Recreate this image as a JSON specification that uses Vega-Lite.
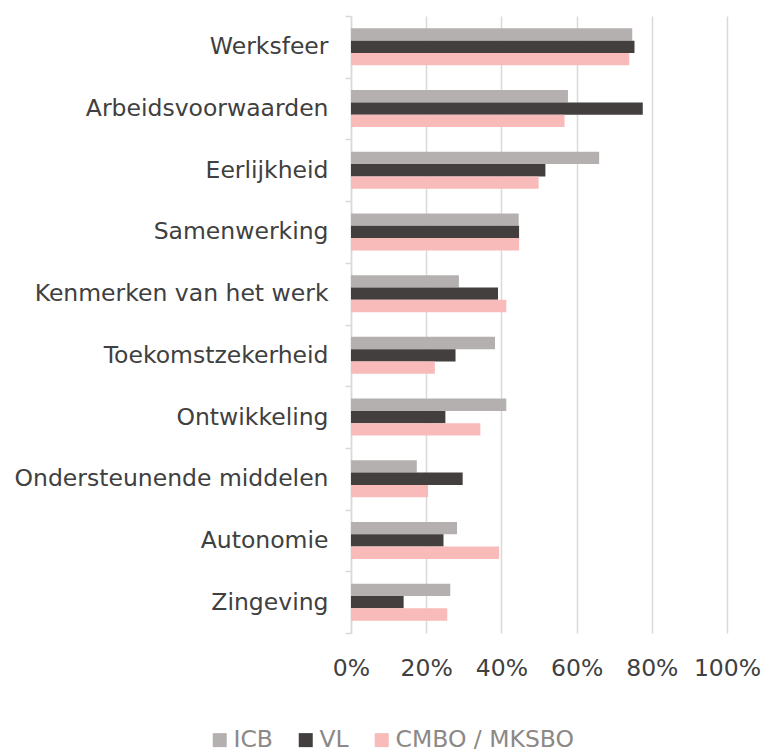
{
  "$schema": "https://vega.github.io/schema/vega-lite/v6.json",
  "autosize": {"type": "none"},
  "padding": {"left": 351, "top": 16, "right": 37, "bottom": 120},
  "width": 376,
  "height": 617,
  "background": "#ffffff",
  "config": {"view": {"stroke": null}},
  "data": {
    "values": [
      {"cat": "Werksfeer", "series": "ICB", "ord": 0, "value": 0.748},
      {"cat": "Werksfeer", "series": "VL", "ord": 1, "value": 0.754},
      {"cat": "Werksfeer", "series": "CMBO / MKSBO", "ord": 2, "value": 0.740},
      {"cat": "Arbeidsvoorwaarden", "series": "ICB", "ord": 0, "value": 0.577},
      {"cat": "Arbeidsvoorwaarden", "series": "VL", "ord": 1, "value": 0.776},
      {"cat": "Arbeidsvoorwaarden", "series": "CMBO / MKSBO", "ord": 2, "value": 0.568},
      {"cat": "Eerlijkheid", "series": "ICB", "ord": 0, "value": 0.660},
      {"cat": "Eerlijkheid", "series": "VL", "ord": 1, "value": 0.517},
      {"cat": "Eerlijkheid", "series": "CMBO / MKSBO", "ord": 2, "value": 0.499},
      {"cat": "Samenwerking", "series": "ICB", "ord": 0, "value": 0.446},
      {"cat": "Samenwerking", "series": "VL", "ord": 1, "value": 0.447},
      {"cat": "Samenwerking", "series": "CMBO / MKSBO", "ord": 2, "value": 0.447},
      {"cat": "Kenmerken van het werk", "series": "ICB", "ord": 0, "value": 0.287},
      {"cat": "Kenmerken van het werk", "series": "VL", "ord": 1, "value": 0.391},
      {"cat": "Kenmerken van het werk", "series": "CMBO / MKSBO", "ord": 2, "value": 0.413},
      {"cat": "Toekomstzekerheid", "series": "ICB", "ord": 0, "value": 0.383},
      {"cat": "Toekomstzekerheid", "series": "VL", "ord": 1, "value": 0.278},
      {"cat": "Toekomstzekerheid", "series": "CMBO / MKSBO", "ord": 2, "value": 0.223},
      {"cat": "Ontwikkeling", "series": "ICB", "ord": 0, "value": 0.413},
      {"cat": "Ontwikkeling", "series": "VL", "ord": 1, "value": 0.251},
      {"cat": "Ontwikkeling", "series": "CMBO / MKSBO", "ord": 2, "value": 0.344},
      {"cat": "Ondersteunende middelen", "series": "ICB", "ord": 0, "value": 0.175},
      {"cat": "Ondersteunende middelen", "series": "VL", "ord": 1, "value": 0.297},
      {"cat": "Ondersteunende middelen", "series": "CMBO / MKSBO", "ord": 2, "value": 0.205},
      {"cat": "Autonomie", "series": "ICB", "ord": 0, "value": 0.282},
      {"cat": "Autonomie", "series": "VL", "ord": 1, "value": 0.246},
      {"cat": "Autonomie", "series": "CMBO / MKSBO", "ord": 2, "value": 0.394},
      {"cat": "Zingeving", "series": "ICB", "ord": 0, "value": 0.264},
      {"cat": "Zingeving", "series": "VL", "ord": 1, "value": 0.140},
      {"cat": "Zingeving", "series": "CMBO / MKSBO", "ord": 2, "value": 0.256}
    ]
  },
  "mark": {"type": "bar"},
  "encoding": {
    "y": {
      "field": "cat",
      "type": "nominal",
      "sort": null,
      "title": null,
      "scale": {"paddingInner": 0, "paddingOuter": 0},
      "axis": {
        "tickBand": "extent",
        "ticks": true,
        "tickSize": 6,
        "tickColor": "#d9d9d9",
        "tickWidth": 1.5,
        "domain": true,
        "domainColor": "#d9d9d9",
        "domainWidth": 1.5,
        "labelFont": "DejaVu Sans",
        "labelFontSize": 23.5,
        "labelColor": "#404040",
        "labelPadding": 17,
        "labelLimit": 400,
        "grid": false
      }
    },
    "yOffset": {
      "field": "ord",
      "type": "ordinal",
      "scale": {"paddingInner": 0, "paddingOuter": 1.12}
    },
    "x": {
      "field": "value",
      "type": "quantitative",
      "title": null,
      "scale": {"domain": [0, 1], "nice": false},
      "axis": {
        "values": [0, 0.2, 0.4, 0.6, 0.8, 1.0],
        "format": ".0%",
        "domain": false,
        "ticks": false,
        "grid": true,
        "gridColor": "#d9d9d9",
        "gridWidth": 1.5,
        "labelFont": "DejaVu Sans",
        "labelFontSize": 23.5,
        "labelColor": "#404040",
        "labelPadding": 23,
        "labelFlush": false
      }
    },
    "color": {
      "field": "series",
      "type": "nominal",
      "title": null,
      "scale": {
        "domain": ["ICB", "VL", "CMBO / MKSBO"],
        "range": ["#b4b0af", "#433f3f", "#f9baba"]
      },
      "legend": {
        "orient": "none",
        "direction": "horizontal",
        "legendX": -143,
        "legendY": 712,
        "symbolType": "square",
        "symbolSize": 196,
        "symbolStrokeWidth": 0,
        "labelFont": "DejaVu Sans",
        "labelFontSize": 23.5,
        "labelColor": "#8c8886",
        "labelOffset": 2,
        "columnPadding": 21,
        "labelLimit": 400
      }
    }
  }
}
